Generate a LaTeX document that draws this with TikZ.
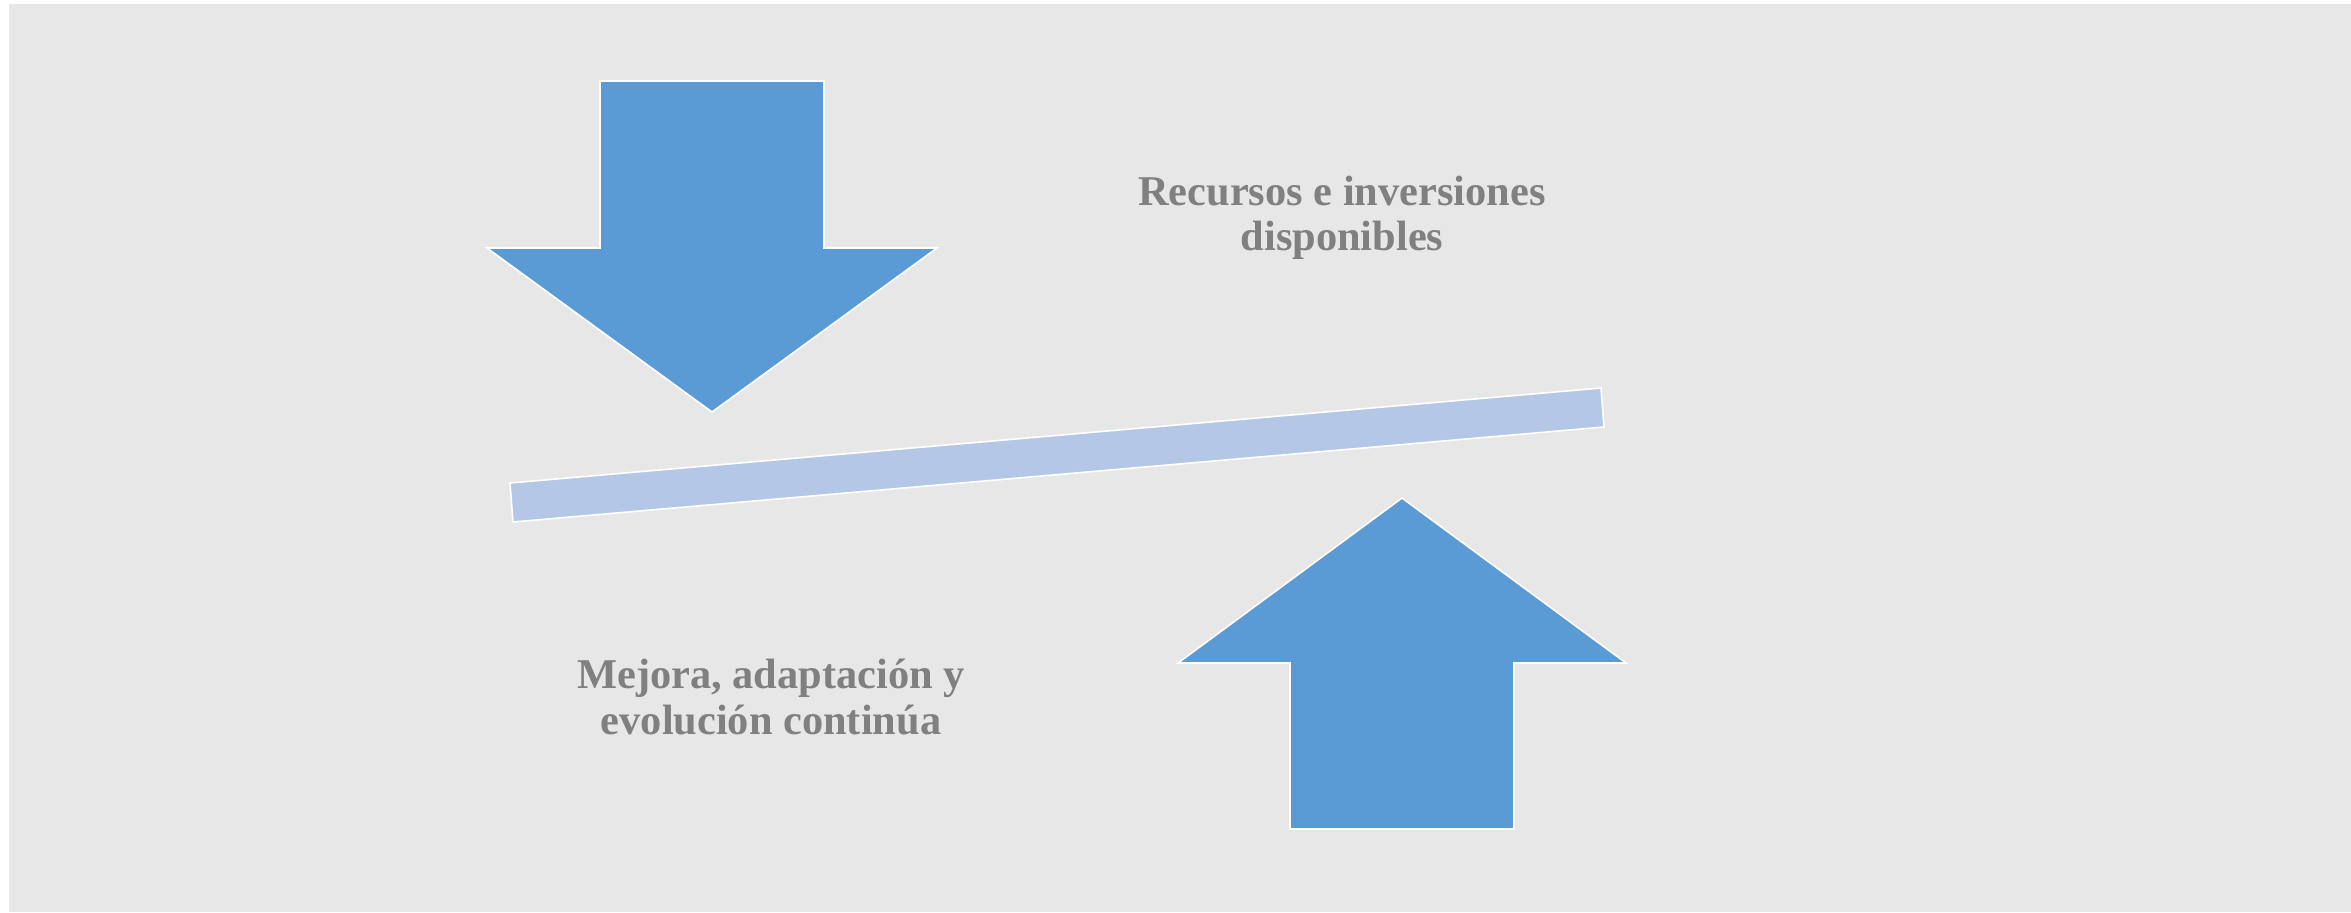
\documentclass[tikz,border=0pt]{standalone}
\usepackage{fontspec}
\setmainfont{Liberation Serif}
\usepackage{tikz}
\usetikzlibrary{positioning}

\definecolor{panelgray}{HTML}{E7E7E7}
\definecolor{arrowblue}{HTML}{5B9BD5}
\definecolor{barblue}{HTML}{B4C7E7}
\definecolor{labelgray}{HTML}{808080}

\tikzset{
  bigarrow/.style={fill=arrowblue, draw=white, line width=0.8pt, line join=miter},
  lever/.style={fill=barblue, draw=white, line width=0.8pt},
  labeltext/.style={text=labelgray, align=center, inner sep=0pt,
    font=\fontsize{21.2}{22.6}\selectfont\bfseries}
}

\begin{document}
\begin{tikzpicture}[x=0.5pt, y=-0.5pt]

% -------------------------------------------------------
% 1. Background panel
% -------------------------------------------------------
\useasboundingbox (0,0) rectangle (2351,912);
\fill[panelgray] (9,4) rectangle (2351,912);

% -------------------------------------------------------
% 2. Downward arrow (top left)
% -------------------------------------------------------
\draw[bigarrow] (600,81) -- (824,81) -- (824,248) -- (937,248)
  -- (712,412) -- (487,248) -- (600,248) -- cycle;

% -------------------------------------------------------
% 3. Tilted bar
% -------------------------------------------------------
\draw[lever] (510,483) -- (1601,388) -- (1604,427) -- (513,522) -- cycle;

% -------------------------------------------------------
% 4. Upward arrow (bottom right)
% -------------------------------------------------------
\draw[bigarrow] (1402,498) -- (1626,663) -- (1514,663) -- (1514,829)
  -- (1290,829) -- (1290,663) -- (1178,663) -- cycle;

% -------------------------------------------------------
% 5. Labels
% -------------------------------------------------------
\node[labeltext] (resources) at (1342,218) {Recursos e inversiones\\disponibles};
\node[labeltext] (improve) at (771,697) {Mejora, adaptación y\\evolución continúa};

\end{tikzpicture}
\end{document}
